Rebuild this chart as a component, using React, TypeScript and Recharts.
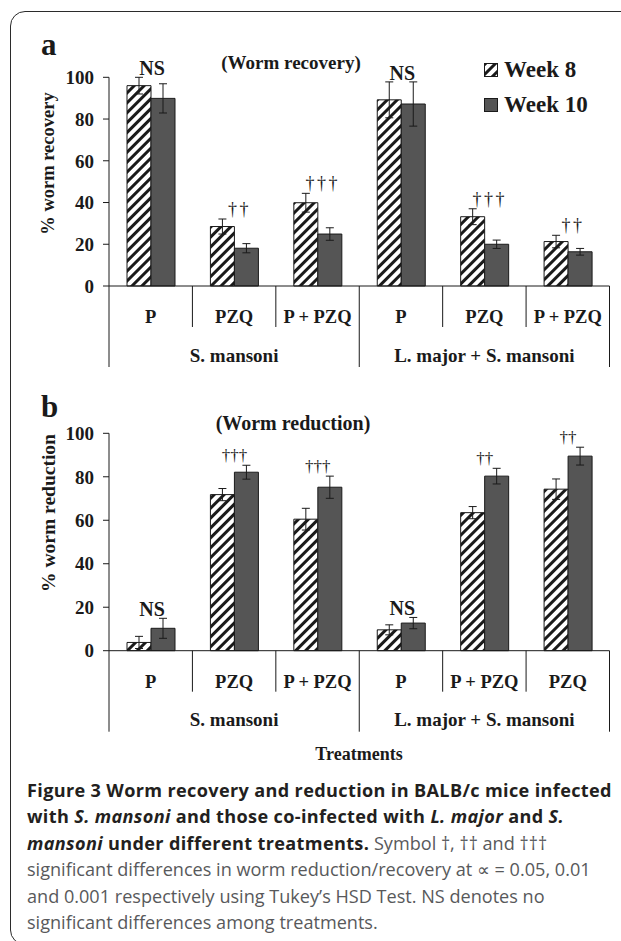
import React from "react";
import { BarChart, Bar, XAxis, YAxis, ErrorBar, LabelList, Legend } from "recharts";

const seriesNames = ["Week 8", "Week 10"];
const groups = ["S. mansoni", "L. major + S. mansoni"];
const yTicks = [0, 20, 40, 60, 80, 100];

// panel a – worm recovery
const recoveryTreatments = ["P", "PZQ", "P + PZQ", "P", "PZQ", "P + PZQ"];
const recoveryWeek8 = [96, 28.5, 39.9, 89.2, 33.2, 21.3];
const recoveryWeek10 = [89.9, 18.1, 24.9, 87.2, 20, 16.4];
const recoveryErr8 = [4, 3.6, 4.5, 8.6, 3.8, 3];
const recoveryErr10 = [7, 2.2, 3, 10.6, 2, 1.6];
const recoveryMarks = ["NS", "††", "†††", "NS", "†††", "††"];

// panel b – worm reduction
const reductionTreatments = ["P", "PZQ", "P + PZQ", "P", "P + PZQ", "PZQ"];
const reductionWeek8 = [3.8, 71.8, 60.5, 9.6, 63.5, 74.3];
const reductionWeek10 = [10.3, 82.1, 75.2, 12.7, 80.3, 89.5];
const reductionErr8 = [2.8, 2.8, 5, 2.3, 2.8, 4.7];
const reductionErr10 = [4.6, 3.2, 5.1, 2.6, 3.6, 4.1];
const reductionMarks = ["NS", "†††", "†††", "NS", "††", "††"];

const W = 621;
const PLOT_LEFT = 109;
const PLOT_RIGHT = 11.5;
const BAND = (W - PLOT_LEFT - PLOT_RIGHT) / 6;
const SERIF = '"Liberation Serif", "Times New Roman", serif';
const SANS = '"Open Sans", "Noto Sans", sans-serif';
const INK = "#1a1a1a";
const SOLID = "#555555";

function buildRows(t: string[], w8: number[], w10: number[], e8: number[], e10: number[], marks: string[]) {
  return t.map((treatment, i) => ({
    treatment,
    group: groups[Math.floor(i / 3)],
    w8: w8[i],
    w10: w10[i],
    e8: e8[i],
    e10: e10[i],
    mark: marks[i],
  }));
}

const recoveryRows = buildRows(recoveryTreatments, recoveryWeek8, recoveryWeek10, recoveryErr8, recoveryErr10, recoveryMarks);
const reductionRows = buildRows(reductionTreatments, reductionWeek8, reductionWeek10, reductionErr8, reductionErr10, reductionMarks);

function CategoryTick({ x, y, payload, index }: any) {
  const left = x - BAND / 2;
  const groupStart = index % 3 === 0;
  return (
    <g>
      <line x1={left} x2={left} y1={y} y2={y + (groupStart ? 81 : 41)} stroke={INK} strokeWidth={1} />
      {index === 5 && <line x1={x + BAND / 2} x2={x + BAND / 2} y1={y} y2={y + 81} stroke={INK} strokeWidth={1} />}
      <text x={x} y={y + 31} textAnchor="middle" dominantBaseline="central" fill={INK}
        fontFamily={SERIF} fontWeight={700} fontSize={18.5}>
        {payload.value}
      </text>
      {index % 3 === 1 && (
        <text x={x} y={y + 69} textAnchor="middle" dominantBaseline="central" fill={INK}
          fontFamily={SERIF} fontWeight={700} fontSize={19}>
          {groups[Math.floor(index / 3)]}
        </text>
      )}
    </g>
  );
}

function makeMark(rows: any[], daggerSize: number, daggerSpacing: number, daggerDx: number) {
  return (props: any) => {
    const vb = props.viewBox ?? props;
    const d = rows[props.index];
    if (!d || !vb.height) return null;
    const base = vb.y + vb.height;
    const k = vb.height / d.w10;
    const topVal = Math.max(d.w8 + d.e8, d.w10 + d.e10);
    const isNS = d.mark === "NS";
    return (
      <text
        x={vb.x + (isNS ? 1 : daggerDx)}
        y={base - topVal * k - (isNS ? 9 : 10)}
        textAnchor="middle"
        dominantBaseline="central"
        fill={INK}
        fontFamily={SERIF}
        fontWeight={isNS ? 700 : 400}
        fontSize={isNS ? 20 : daggerSize}
        letterSpacing={isNS ? 0 : daggerSpacing}
      >
        {d.mark}
      </text>
    );
  };
}

function LegendBox({ hatchId }: { hatchId: string }) {
  const fills = [`url(#${hatchId})`, SOLID];
  return (
    <div>
      {seriesNames.map((name, i) => (
        <div key={name} style={{ display: "flex", alignItems: "center", height: 35 }}>
          <svg width={15} height={14} style={{ marginRight: 5 }}>
            <rect x={0.5} y={0.5} width={13} height={13} fill={fills[i]} stroke={INK} strokeWidth={1} />
          </svg>
          <span style={{ fontFamily: SERIF, fontWeight: 700, fontSize: 23, color: INK, lineHeight: 1 }}>{name}</span>
        </div>
      ))}
    </div>
  );
}

function Panel({ id, rows, top, height, plotTop, plotBottom, daggerSize, daggerSpacing, daggerDx, legend }: any) {
  const hatchId = `hatch-${id}`;
  return (
    <div style={{ position: "absolute", left: 0, top, width: W, height }}>
      <BarChart
        width={W}
        height={height}
        data={rows}
        margin={{ top: plotTop, right: PLOT_RIGHT, left: 0, bottom: 0 }}
        barGap={0}
      >
        <defs>
          <pattern id={hatchId} width={7} height={7} patternUnits="userSpaceOnUse" patternTransform="rotate(45)">
            <rect width={7} height={7} fill="#fff" />
            <rect width={3} height={7} fill={INK} />
          </pattern>
        </defs>
        <XAxis
          dataKey="treatment"
          interval={0}
          height={height - plotBottom}
          tickSize={0}
          tickMargin={0}
          tickLine={false}
          stroke={INK}
          tick={<CategoryTick />}
        />
        <YAxis
          type="number"
          domain={[0, 100]}
          ticks={yTicks}
          interval={0}
          width={PLOT_LEFT}
          tickSize={6}
          tickMargin={9}
          stroke={INK}
          tick={{ fill: INK, fontFamily: SERIF, fontWeight: 700, fontSize: 19 }}
        />
        {legend && (
          <Legend
            layout="vertical"
            align="center"
            verticalAlign="middle"
            wrapperStyle={{ left: 484, top: 52, width: 130 }}
            content={() => <LegendBox hatchId={hatchId} />}
          />
        )}
        <Bar dataKey="w8" name={seriesNames[0]} fill={`url(#${hatchId})`} stroke={INK} strokeWidth={1}
          barSize={24} isAnimationActive={false}>
          <ErrorBar dataKey="e8" width={4} stroke={INK} strokeWidth={1} isAnimationActive={false} />
        </Bar>
        <Bar dataKey="w10" name={seriesNames[1]} fill={SOLID} stroke={INK} strokeWidth={1}
          barSize={24} isAnimationActive={false}>
          <ErrorBar dataKey="e10" width={4} stroke={INK} strokeWidth={1} isAnimationActive={false} />
          <LabelList dataKey="mark" content={makeMark(rows, daggerSize, daggerSpacing, daggerDx)} />
        </Bar>
      </BarChart>
    </div>
  );
}

const boldInk = "#231f20";
const greyInk = "#58595b";

export default function App() {
  const lineStyle: React.CSSProperties = { whiteSpace: "nowrap", height: 26.4, lineHeight: "26.4px" };
  const b = (s: string) => <span style={{ fontWeight: 700, color: boldInk, letterSpacing: 0.35 }}>{s}</span>;
  const bi = (s: string) => <span style={{ fontWeight: 700, fontStyle: "italic", color: boldInk, letterSpacing: 0.35 }}>{s}</span>;
  return (
    <div style={{ position: "absolute", left: 0, top: 0, width: W, height: 941, overflow: "hidden", background: "#fff" }}>
      <div style={{
        position: "absolute", left: 10, top: 11, width: 700, height: 932,
        border: "1.5px solid #2b2b2b", borderRadius: "15px 0 0 15px",
      }} />

      <Panel id="a" rows={recoveryRows} top={0} height={380} plotTop={77.3} plotBottom={286}
        daggerSize={18} daggerSpacing={2.5} daggerDx={5} legend />
      <Panel id="b" rows={reductionRows} top={380} height={390} plotTop={53.3} plotBottom={270.7}
        daggerSize={17} daggerSpacing={0} daggerDx={0} legend={false} />

      <svg width={W} height={941} style={{ position: "absolute", left: 0, top: 0, pointerEvents: "none" }}>
        <g fill={INK} fontFamily={SERIF} fontWeight={700}>
          <text x={41} y={55} fontSize={31}>a</text>
          <text x={291} y={62} fontSize={19} textAnchor="middle" dominantBaseline="central">(Worm recovery)</text>
          <text transform="translate(48,163.5) rotate(-90)" fontSize={18.5} textAnchor="middle" dominantBaseline="central">
            % worm recovery
          </text>
          <text x={41} y={417} fontSize={31}>b</text>
          <text x={293} y={423} fontSize={20} textAnchor="middle" dominantBaseline="central">(Worm reduction)</text>
          <text transform="translate(48,513) rotate(-90)" fontSize={19.5} textAnchor="middle" dominantBaseline="central">
            % worm reduction
          </text>
          <text x={359} y={754} fontSize={18} textAnchor="middle" dominantBaseline="central">Treatments</text>
        </g>
      </svg>

      <div style={{ position: "absolute", left: 27, top: 777, fontFamily: SANS, fontSize: 18.1, color: greyInk }}>
        <div style={lineStyle}>{b("Figure 3 Worm recovery and reduction in BALB/c mice infected")}</div>
        <div style={lineStyle}>{b("with ")}{bi("S. mansoni")}{b(" and those co-infected with ")}{bi("L. major")}{b(" and ")}{bi("S.")}</div>
        <div style={lineStyle}>{bi("mansoni")}{b(" under different treatments.")} Symbol †, †† and †††</div>
        <div style={lineStyle}>significant differences in worm reduction/recovery at ∝ = 0.05, 0.01</div>
        <div style={lineStyle}>and 0.001 respectively using Tukey’s HSD Test. NS denotes no</div>
        <div style={lineStyle}>significant differences among treatments.</div>
      </div>
    </div>
  );
}
